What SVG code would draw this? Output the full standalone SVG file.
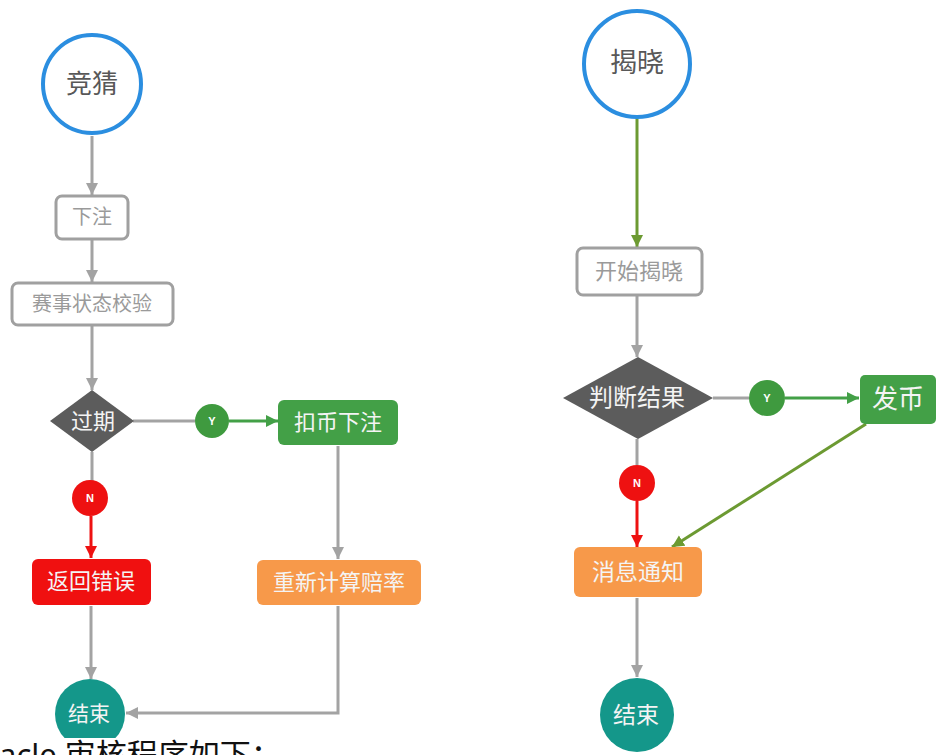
<svg xmlns="http://www.w3.org/2000/svg" width="936" height="755" viewBox="0 0 936 755">
  <style>
    .lbl { font-family: "Liberation Serif", "Noto Sans CJK SC", serif; text-anchor: middle; dominant-baseline: central; }
    .start { fill: #fff; stroke: #2b8ee0; stroke-width: 4; }
    .step { fill: #fff; stroke: #a0a0a0; stroke-width: 3; }
    .decision { fill: #5c5c5c; }
    .ok { fill: #43a047; }
    .err { fill: #f01010; }
    .warn { fill: #f7994a; }
    .end { fill: #14978a; }
    .badge-y { fill: #3f9a3f; }
    .badge-n { fill: #ee1111; }
    .dark { fill: #585858; }
    .muted { fill: #9a9a9a; }
    .light { fill: #f4f4f4; }
    .badge-t { font-family: "Liberation Sans", Arial, sans-serif; font-weight: bold; font-size: 11px; fill: #fff; text-anchor: middle; dominant-baseline: central; }
    .wire { fill: none; stroke-width: 3; }
    .gray { stroke: #a3a3a3; }
    .green { stroke: #43a047; }
    .olive { stroke: #6c9a32; }
    .red { stroke: #ee1111; }
    .caption { font-family: "Noto Sans", "Noto Sans CJK SC", sans-serif; font-size: 31px; fill: #111; }
  </style>
  <defs>
    <marker id="ah-gray" markerUnits="userSpaceOnUse" markerWidth="14" markerHeight="14" viewBox="0 0 14 14" refX="12" refY="7" orient="auto">
      <path d="M0,1 L12,7 L0,13 Z" fill="#a3a3a3"/>
    </marker>
    <marker id="ah-green" markerUnits="userSpaceOnUse" markerWidth="14" markerHeight="14" viewBox="0 0 14 14" refX="12" refY="7" orient="auto">
      <path d="M0,1 L12,7 L0,13 Z" fill="#43a047"/>
    </marker>
    <marker id="ah-olive" markerUnits="userSpaceOnUse" markerWidth="14" markerHeight="14" viewBox="0 0 14 14" refX="12" refY="7" orient="auto">
      <path d="M0,1 L12,7 L0,13 Z" fill="#6c9a32"/>
    </marker>
    <marker id="ah-red" markerUnits="userSpaceOnUse" markerWidth="14" markerHeight="14" viewBox="0 0 14 14" refX="12" refY="7" orient="auto">
      <path d="M0,1 L12,7 L0,13 Z" fill="#ee1111"/>
    </marker>
  </defs>
  <rect width="936" height="755" fill="#fff"/>

  <!-- connectors -->
  <g id="connectors">
    <!-- betting flow -->
    <path class="wire gray" d="M92,136 V195" marker-end="url(#ah-gray)"/>
    <path class="wire gray" d="M92,240 V282" marker-end="url(#ah-gray)"/>
    <path class="wire gray" d="M92,326 V390" marker-end="url(#ah-gray)"/>
    <path class="wire gray" d="M133,421 H195"/>
    <path class="wire green" d="M229,421 H278" marker-end="url(#ah-green)"/>
    <path class="wire gray" d="M92,452 V481"/>
    <path class="wire red" d="M91,516 V558" marker-end="url(#ah-red)"/>
    <path class="wire gray" d="M338,446 V559" marker-end="url(#ah-gray)"/>
    <path class="wire gray" d="M91,606 V679" marker-end="url(#ah-gray)"/>
    <path class="wire gray" d="M338,606 V713 H126" marker-end="url(#ah-gray)"/>
    <!-- reveal flow -->
    <path class="wire olive" d="M637,118 V247" marker-end="url(#ah-olive)"/>
    <path class="wire gray" d="M637,296 V357" marker-end="url(#ah-gray)"/>
    <path class="wire gray" d="M713,398 H749"/>
    <path class="wire green" d="M785,398 H859" marker-end="url(#ah-green)"/>
    <path class="wire gray" d="M637,439 V465"/>
    <path class="wire red" d="M637,501 V547" marker-end="url(#ah-red)"/>
    <path class="wire olive" d="M866,424 L672,547" marker-end="url(#ah-olive)"/>
    <path class="wire gray" d="M637,598 V677" marker-end="url(#ah-gray)"/>
  </g>

  <!-- betting flow nodes -->
  <g id="bet-start">
    <circle class="start" cx="92" cy="84" r="49"/>
    <text class="lbl dark" x="92" y="84" font-size="26">竞猜</text>
  </g>
  <g id="place-bet">
    <rect class="step" x="56" y="196" width="72" height="43" rx="6"/>
    <text class="lbl muted" x="92" y="217" font-size="20">下注</text>
  </g>
  <g id="check-status">
    <rect class="step" x="12" y="283" width="161" height="42" rx="6"/>
    <text class="lbl muted" x="92" y="304" font-size="20">赛事状态校验</text>
  </g>
  <g id="expired">
    <polygon class="decision" points="92,390 134,421 92,452 50,421"/>
    <text class="lbl light" x="93" y="421" font-size="22">过期</text>
  </g>
  <g id="bet-yes">
    <circle class="badge-y" cx="212" cy="421" r="17"/>
    <text class="badge-t" x="212" y="421">Y</text>
  </g>
  <g id="bet-no">
    <circle class="badge-n" cx="90" cy="498" r="18"/>
    <text class="badge-t" x="90" y="498">N</text>
  </g>
  <g id="deduct">
    <rect class="ok" x="278" y="400" width="120" height="45" rx="6"/>
    <text class="lbl light" x="338" y="422" font-size="22">扣币下注</text>
  </g>
  <g id="error">
    <rect class="err" x="32" y="559" width="119" height="46" rx="6"/>
    <text class="lbl light" x="91" y="581" font-size="22">返回错误</text>
  </g>
  <g id="recalc">
    <rect class="warn" x="257" y="560" width="164" height="45" rx="6"/>
    <text class="lbl light" x="339" y="582" font-size="22">重新计算赔率</text>
  </g>
  <g id="bet-end">
    <circle class="end" cx="90" cy="714" r="35"/>
    <text class="lbl light" x="89" y="714" font-size="21">结束</text>
  </g>

  <!-- reveal flow nodes -->
  <g id="reveal-start">
    <circle class="start" cx="637" cy="64" r="53"/>
    <text class="lbl dark" x="637" y="63" font-size="27">揭晓</text>
  </g>
  <g id="begin-reveal">
    <rect class="step" x="577" y="248" width="125" height="47" rx="6"/>
    <text class="lbl muted" x="639" y="271" font-size="22">开始揭晓</text>
  </g>
  <g id="judge">
    <polygon class="decision" points="638,357 713,398 638,439 563,398"/>
    <text class="lbl light" x="637" y="398" font-size="24">判断结果</text>
  </g>
  <g id="reveal-yes">
    <circle class="badge-y" cx="767" cy="398" r="18"/>
    <text class="badge-t" x="767" y="398">Y</text>
  </g>
  <g id="reveal-no">
    <circle class="badge-n" cx="637" cy="483" r="18"/>
    <text class="badge-t" x="637" y="483">N</text>
  </g>
  <g id="payout">
    <rect class="ok" x="860" y="375" width="76" height="49" rx="5"/>
    <text class="lbl light" x="898" y="399" font-size="26">发币</text>
  </g>
  <g id="notify">
    <rect class="warn" x="574" y="547" width="128" height="50" rx="6"/>
    <text class="lbl light" x="638" y="572" font-size="23">消息通知</text>
  </g>
  <g id="reveal-end">
    <circle class="end" cx="637" cy="715" r="37"/>
    <text class="lbl light" x="636" y="715" font-size="23">结束</text>
  </g>

  <!-- caption line below the left chart, on its own white band -->
  <rect x="0" y="738" width="560" height="17" fill="#fff"/>
  <text class="caption" x="-1" y="766">acle 审核程序如下：</text>
</svg>
